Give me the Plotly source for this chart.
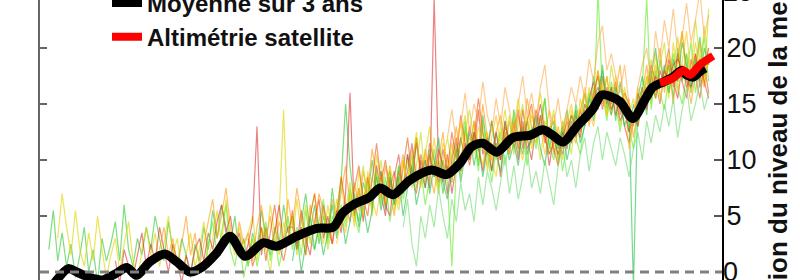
import plotly.graph_objects as go

# ---------------- data (cm, annual means) ----------------
X_MIN, X_MAX = 1853, 2007
Y_MIN, Y_MAX = -0.714, 24.286
TICK_VALUES = [0, 5, 10, 15, 20]

gauge_a_start = 1855
gauge_a = [2.0, 5.5, 1.0, 3.5, 0.5, 2.5, -0.5, 1.5, 4.0, 0.0,
           2.0, -1.0, 3.0, 1.0, 2.5, 4.5, 1.0, 6.0, 2.0, 0.5,
           3.0, 1.5, 4.0, 2.0, 5.0, 3.0, 1.0, 4.5, 2.0, 0.5,
           3.0, 1.5, -0.5, 2.5, 1.0, 4.0, 2.0, 5.5, 3.0, 6.0,
           4.0, 2.5, 5.0, 1.5, 3.0, 0.5, 3.5, 2.0, 5.5, 3.0,
           1.5, 4.0, 2.5, 6.0, 3.5, 5.0, 2.0, 4.5, 7.0, 3.5,
           6.0, 2.5, 5.0, 3.0, 7.5, 4.0, 8.0, 15.0, 9.5, 6.0,
           4.5, 8.0, 6.5, 10.0, 7.0, 9.0, 5.5, 8.5, 6.0, 9.5,
           7.0, 10.5, 8.0, 12.0, 9.0, 7.5, 11.0, 8.5, 10.0, 7.0,
           9.5, 8.0, 11.5, 9.0, 13.0, 10.5, 12.5, 9.5, 14.0, 11.0,
           9.0, 12.5, 10.0, 13.5, 11.0, 14.5, 12.0, 10.5, 13.5, 11.5,
           14.0, 12.5, 15.5, 11.0, 13.0, 10.0, 12.5, 14.5, 11.5, 15.0,
           13.0, 16.0, 14.0, 17.5, 15.0, 18.5, 14.5, 16.5, 13.5, 17.0,
           14.5, 12.5, 15.0, 13.0, 16.5, 14.0, 18.0, 15.5, 19.0, 16.5,
           18.5, 15.5, 20.0, 17.0, 19.5, 16.0, 18.5, 21.0, 17.5, 19.0]

gauge_b_start = 1857
gauge_b = [3.0, 7.0, 4.0, 1.5, 5.5, 2.0, 0.5, 3.5, 1.0, 5.0,
           2.0, -0.5, 1.5, 3.0, 0.0, 2.5, 4.5, 1.0, -1.0, 2.0,
           4.0, 1.5, 3.5, 0.5, 2.5, 5.0, 1.5, 3.0, 0.0, 1.5,
           3.5, 0.5, 2.0, 4.5, 1.0, 3.0, 5.5, 2.5, 6.5, 3.0,
           1.5, 4.0, 2.0, 3.5, 5.0, 1.5, 4.0, 2.0, 6.0, 3.5,
           5.0, 14.5, 4.0, 2.5, 6.5, 3.5, 1.5, 5.0, 7.0, 4.0,
           2.5, 6.0, 3.5, 5.5, 8.5, 4.5, 7.0, 5.0, 9.0, 6.5,
           8.5, 5.0, 10.5, 8.0, 6.0, 9.5, 5.5, 8.0, 10.0, 7.5,
           9.5, 12.5, 8.0, 10.5, 13.0, 9.0, 7.5, 10.0, 8.5, 11.5,
           9.0, 12.0, 14.0, 10.5, 13.5, 11.0, 9.5, 12.5, 10.0, 8.5,
           12.0, 14.5, 11.5, 13.0, 15.5, 12.0, 14.0, 11.0, 13.5, 16.0,
           13.0, 10.5, 12.5, 9.5, 13.5, 11.5, 14.5, 12.0, 15.5, 13.5,
           16.5, 14.0, 18.0, 15.5, 17.5, 14.0, 16.0, 13.0, 15.5, 12.5,
           13.5, 16.0, 14.5, 17.5, 15.0, 19.5, 16.5, 18.0, 15.5, 20.5,
           17.0, 21.5, 18.0, 16.0, 19.5, 17.0, 22.0, 18.5]

gauge_c_start = 1870
gauge_c = [1.0, -1.0, 2.0, 0.5, -0.5, 1.5, 3.5, 0.5, 2.5, 1.0,
           4.0, 2.0, 0.0, 2.5, 1.0, -1.0, 1.5, 0.0, 2.0, 3.0,
           1.0, 3.5, 2.0, 4.5, 6.0, 3.5, 5.0, 2.0, 3.5, 1.0,
           2.5, 4.5, 13.0, 1.5, 4.0, 2.0, 3.5, 6.0, 2.5, 4.0,
           4.0, 2.5, 5.5, 3.0, 1.5, 4.5, 6.5, 3.0, 5.0, 2.5,
           5.5, 3.5, 7.0, 16.0, 5.0, 7.5, 4.5, 8.5, 6.0, 9.5,
           7.0, 5.0, 8.5, 6.5, 9.0, 7.5, 10.5, 8.0, 11.5, 9.0,
           10.0, 7.5, 24.5, 9.5, 8.0, 10.5, 7.0, 9.5, 12.0, 10.0,
           13.0, 11.0, 14.5, 10.5, 12.0, 9.0, 11.5, 8.5, 12.5, 10.5,
           13.5, 11.0, 14.5, 12.0, 10.0, 13.0, 15.0, 12.5, 9.5, 12.0,
           10.5, 12.5, 11.0, 13.5, 12.0, 14.5, 13.0, 15.5, 17.0, 14.5,
           17.5, 15.0, 16.5, 14.0, 15.5, 13.0, 11.5, 13.5, 15.0, 16.5,
           14.5, 17.5, 15.5, 18.0, 16.5, 19.0, 17.0, 15.5, 18.5, 16.5,
           17.5, 19.5, 16.5, 18.0, 20.0]

gauge_d_start = 1880
gauge_d = [2.0, 4.0, 1.5, 3.0, 0.5, 2.5, 5.0, 1.5, 3.5, 0.5,
           2.5, 4.5, 6.5, 3.0, 5.0, 7.5, 4.0, 2.0, 4.5, 2.5,
           3.5, 1.0, 4.0, 6.0, 3.0, 5.0, 2.0, 4.5, 3.0, 6.5,
           4.0, 7.5, 5.0, 2.5, 6.0, 4.0, 7.0, 5.5, 3.5, 6.5,
           4.5, 7.0, 9.5, 6.0, 8.0, 5.5, 9.0, 7.0, 11.0, 8.5,
           6.5, 9.5, 7.0, 5.0, 8.5, 10.5, 7.5, 9.5, 12.0, 8.5,
           11.0, 9.0, 7.0, 10.0, 12.5, 8.5, 10.5, 13.0, 10.0, 12.5,
           10.0, 13.5, 11.0, 15.0, 12.0, 10.0, 12.5, 14.0, 11.0, 13.5,
           11.0, 14.0, 12.0, 15.5, 13.0, 11.5, 14.0, 12.0, 14.5, 10.5,
           13.0, 11.0, 14.0, 12.5, 11.5, 14.5, 16.0, 13.0, 15.5, 18.0,
           15.0, 17.5, 14.5, 16.0, 18.5, 14.0, 15.5, 12.0, 14.5, 16.0,
           18.5, 15.5, 17.5, 20.0, 16.0, 18.5, 15.0, 19.0, 21.5, 17.5,
           15.0, 18.0, 20.5, 16.5, 19.0]

gauge_e_start = 1890
gauge_e = [0.0, 2.5, 4.5, 1.5, 3.5, 6.0, 2.0, 0.5, 3.0, -0.5,
           1.5, 3.0, 0.5, 2.5, 4.5, 1.0, 3.0, 0.5, 2.5, 5.0,
           2.0, 4.0, 1.5, 5.5, 3.0, 2.0, 4.5, 6.5, 2.5, 5.0,
           3.5, 6.0, 4.0, 7.5, 5.0, 3.5, 6.5, 8.0, 5.5, 9.0,
           6.0, 8.5, 4.5, 7.0, 9.5, 6.5, 8.0, 10.5, 7.5, 9.0,
           6.0, 8.5, 11.0, 7.5, 10.0, 8.0, 0.5, 9.5, 11.5, 13.5,
           10.0, 12.0, 9.0, 13.5, 10.5, 8.0, 11.0, 12.5, 9.5, 11.5,
           14.0, 10.5, 12.5, 9.5, 13.0, 11.0, 13.5, 15.5, 11.5, 10.0,
           12.5, 9.0, 11.5, 14.0, 12.0, 10.5, 13.5, 16.0, 14.0, 25.0,
           16.0, 13.5, 17.0, 15.0, 12.5, 15.5, 13.0, 11.0, 14.5, 16.5,
           24.5, 14.5, 18.0, 16.0, 14.5, 17.5, 19.5, 16.5, 15.0, 18.0,
           20.5, 16.0, 18.5, 21.0, 17.0]

gauge_f_start = 1900
gauge_f = [0.5, 3.0, 1.0, 4.0, 2.0, 0.0, 3.5, 1.5, 4.5, 2.5,
           5.0, 1.5, 3.5, 6.0, 2.5, 4.5, 3.0, 5.5, 2.0, 4.0,
           6.5, 4.0, 5.5, 8.0, 4.5, 7.0, 9.5, 6.0, 8.5, 7.0,
           10.0, 6.5, 8.5, 7.0, 5.5, 8.0, 10.0, 7.5, 9.5, 12.5,
           8.0, 10.5, 9.0, 7.0, 10.0, 12.0, 9.5, 11.0, 8.5, 12.5,
           14.5, 11.5, 10.0, 12.5, 9.0, 11.5, 10.0, 13.0, 11.5, 14.0,
           10.5, 13.0, 15.0, 11.5, 14.0, 12.5, 10.0, 13.5, 12.0, 14.5,
           11.0, 13.5, 12.5, 10.5, 14.5, 12.0, 15.0, 13.5, 16.5, 15.0,
           17.0, 14.0, 18.5, 16.0, 14.5, 16.5, 14.0, 15.5, 13.0, 15.0,
           17.0, 19.0, 15.5, 18.5, 20.5, 16.0, 18.0, 21.0, 17.5, 19.5,
           18.0, 22.5, 19.0, 17.0, 23.5]

gauge_g_start = 1900
gauge_g = [3.0, 0.5, 2.0, 4.0, 1.0, 3.5, 6.0, 2.5, 1.0, 3.0,
           5.5, 2.0, 4.0, 1.5, 5.0, 7.0, 3.5, 6.0, 4.0, 2.5,
           5.0, 8.5, 6.0, 4.5, 7.5, 9.5, 6.5, 5.0, 8.0, 11.5,
           8.0, 10.0, 7.5, 9.0, 6.5, 9.5, 12.0, 8.5, 7.0, 10.5,
           8.5, 11.5, 10.0, 8.0, 11.0, 9.0, 12.5, 10.0, 14.0, 11.5,
           9.5, 12.0, 15.5, 12.5, 10.5, 13.5, 11.0, 10.0, 13.0, 11.5,
           12.5, 14.5, 11.0, 13.5, 15.0, 12.0, 14.0, 11.5, 13.0, 11.0,
           9.5, 12.0, 13.5, 11.5, 14.0, 12.5, 15.0, 14.0, 16.0, 17.5,
           14.5, 16.5, 15.0, 17.0, 14.0, 16.0, 15.0, 13.0, 16.0, 14.5,
           16.0, 18.5, 17.0, 15.0, 18.0, 20.0, 16.5, 19.5, 17.0, 15.5,
           19.0, 17.5, 15.5, 18.5, 16.0]

gauge_h_start = 1910
gauge_h = [1.0, 3.5, 0.0, 2.5, 5.0, 2.0, 4.0, 1.5, 3.5, 6.0,
           3.0, 5.5, 2.5, 4.5, 7.0, 4.0, 6.0, 3.5, 5.5, 8.5,
           5.5, 7.5, 9.0, 6.0, 8.5, 5.0, 7.5, 9.5, 6.0, 8.0,
           10.0, 7.0, 9.5, 12.0, 8.0, 6.5, 9.0, 11.0, 8.0, 10.5,
           12.5, 9.5, 11.5, 8.5, 11.0, 13.5, 10.5, 9.0, 12.0, 10.0,
           11.5, 9.5, 13.0, 10.5, 12.0, 14.0, 11.0, 9.5, 12.5, 13.5,
           11.0, 13.0, 10.0, 12.0, 14.5, 11.5, 13.0, 15.5, 13.5, 16.0,
           18.0, 15.5, 14.0, 16.5, 15.0, 13.0, 14.5, -1.5, 15.5, 17.5,
           15.5, 17.5, 20.0, 16.5, 18.5, 16.0, 19.0, 17.0, 20.5, 18.5,
           16.5, 19.0, 17.0, 20.0, 18.5]

gauge_i_start = 1920
gauge_i = [2.5, 5.0, 3.5, 6.5, 4.0, 7.5, 5.0, 9.0, 6.5, 5.0,
           8.0, 6.0, 9.5, 7.5, 6.0, 10.0, 8.0, 11.0, 9.0, 7.5,
           10.5, 8.5, 12.0, 9.0, 11.5, 10.0, 8.0, 11.5, 13.5, 10.5,
           12.0, 10.5, 13.0, 11.5, 9.5, 12.0, 14.0, 11.0, 12.5, 10.5,
           13.5, 11.5, 10.0, 12.5, 14.5, 12.0, 13.0, 10.5, 12.5, 14.0,
           12.0, 10.0, 13.5, 15.0, 12.5, 14.0, 16.5, 14.5, 13.0, 15.5,
           16.5, 14.0, 15.5, 17.5, 14.5, 16.0, 11.0, 14.0, 16.5, 15.0,
           17.5, 16.0, 18.5, 15.5, 17.0, 19.5, 18.0, 16.0, 19.0, 21.5,
           17.5, 20.5, 18.0, 16.5, 19.5]

gauge_j_start = 1930
gauge_j = [9.0, 6.0, 5.0, 8.5, 10.5, 7.0, 9.0, 11.5, 8.0, 10.0,
           7.5, 10.5, 8.5, 11.0, 9.5, 7.0, 10.0, 12.0, 9.0, 11.5,
           10.0, 12.5, 11.0, 9.0, 11.5, 10.5, 12.5, 10.0, 13.5, 11.5,
           12.5, 10.0, 13.5, 11.0, 12.0, 14.5, 13.0, 12.0, 10.5, 11.5,
           12.0, 10.5, 12.5, 14.0, 13.0, 12.0, 14.5, 13.5, 15.5, 16.5,
           15.5, 16.0, 14.5, 15.5, 13.5, 14.5, 12.5, 14.0, 13.0, 15.5,
           16.5, 15.5, 17.5, 16.5, 18.0, 17.0, 18.5, 19.0, 18.0, 17.0,
           16.5, 18.0, 19.0, 17.0, 15.5]

gauge_k_start = 1935
gauge_k = [4.0, 6.5, 2.5, 0.5, 5.0, 3.0, 6.0, 4.0, 7.5, 5.0,
           3.0, 6.5, 4.5, 8.0, 5.5, 7.0, 4.5, 8.5, 6.0, 9.0,
           7.5, 5.5, 8.0, 10.5, 7.0, 9.5, 6.5, 8.5, 11.0, 7.5,
           9.0, 7.0, 10.0, 8.0, 6.0, 9.5, 11.5, 8.5, 10.0, 7.5,
           10.5, 12.0, 9.0, 11.5, 13.0, 10.0, 12.5, 11.0, 9.5, 12.0,
           10.5, 8.5, 11.0, 12.5, 10.0, 13.5, 11.5, 14.0, 12.5, 15.0,
           13.0, 15.5, 12.0, 14.5, 16.5, 13.5, 15.0, 17.0, 14.5, 16.0]

gauge_l_start = 1945
gauge_l = [12.0, 14.5, 11.5, 13.0, 16.0, 12.5, 15.0, 13.5, 17.0, 14.0,
           12.5, 15.5, 13.0, 16.5, 14.5, 12.0, 15.0, 17.5, 14.0, 16.0,
           13.5, 16.5, 18.5, 14.5, 13.0, 15.5, 12.5, 14.5, 16.5, 15.0,
           17.5, 15.5, 19.0, 17.0, 20.5, 22.0, 18.0, 19.5, 17.5, 16.0,
           18.5, 15.0, 13.5, 16.5, 18.5, 20.0, 17.0, 21.5, 19.0, 22.5,
           20.0, 23.5, 19.5, 21.0, 24.0, 20.5, 22.5, 25.0, 21.0, 23.0]

mean_years = [1855.3, 1856.8, 1859.4, 1861.3, 1864.3, 1867.2, 1870.3, 1872.6, 1874.8, 1877.8,
              1881.2, 1883.9, 1886.9, 1889.8, 1892.9, 1895.9, 1899.3, 1903.4, 1906.4, 1911.0,
              1915.5, 1919.2, 1921.4, 1923.7, 1927.5, 1929.8, 1932.7, 1936.5, 1941.4, 1944.8,
              1947.8, 1950.5, 1953.0, 1956.1, 1959.8, 1963.6, 1966.6, 1968.8, 1971.1, 1974.2,
              1976.4, 1977.9, 1979.8, 1981.7, 1984.0, 1986.9, 1989.6, 1991.4, 1993.4, 1995.9,
              1997.9, 1999.0, 2000.5, 2002.0, 2003.2]
mean_cm = [-1.6, -0.7, 0.3, 0.0, -0.5, -0.7, -0.1, 0.4, -0.3, 0.9,
           1.6, 0.9, 0.0, 0.5, 1.7, 3.2, 1.4, 2.6, 2.3, 3.2,
           3.9, 4.0, 5.3, 6.0, 6.7, 7.5, 6.9, 8.2, 9.1, 8.7,
           9.7, 11.2, 11.5, 10.7, 12.0, 12.2, 12.7, 12.2, 11.6, 13.0,
           13.9, 14.6, 15.8, 15.7, 15.2, 13.7, 15.4, 16.5, 16.9, 17.4,
           18.0, 17.6, 17.4, 17.9, 18.2]

sat_years = [1993.0, 1995.9, 1998.2, 1999.8, 2002.0, 2005.0]
sat_cm = [16.9, 17.3, 18.0, 17.6, 18.5, 19.3]

gauges = [
    (gauge_a_start, gauge_a, "rgba(40,200,40,0.6)"),
    (gauge_b_start, gauge_b, "rgba(225,215,0,0.65)"),
    (gauge_c_start, gauge_c, "rgba(220,30,30,0.55)"),
    (gauge_d_start, gauge_d, "rgba(255,150,0,0.6)"),
    (gauge_e_start, gauge_e, "rgba(90,235,30,0.6)"),
    (gauge_f_start, gauge_f, "rgba(190,220,0,0.6)"),
    (gauge_g_start, gauge_g, "rgba(235,70,0,0.55)"),
    (gauge_h_start, gauge_h, "rgba(30,190,70,0.6)"),
    (gauge_i_start, gauge_i, "rgba(255,190,0,0.6)"),
    (gauge_j_start, gauge_j, "rgba(210,60,60,0.55)"),
    (gauge_k_start, gauge_k, "rgba(110,220,110,0.6)"),
    (gauge_l_start, gauge_l, "rgba(255,170,70,0.6)"),
]

FONT = "Liberation Sans, Arial, sans-serif"
LABEL_SHIFT = -3

fig = go.Figure()
for start, vals, col in gauges:
    fig.add_trace(go.Scatter(
        x=list(range(start, start + len(vals))), y=vals, mode="lines",
        line=dict(color=col, width=1.2), showlegend=False, hoverinfo="skip"))

fig.add_trace(go.Scatter(
    x=mean_years, y=mean_cm, mode="lines", name="Moyenne sur 3 ans",
    line=dict(color="black", width=9, shape="spline", smoothing=0.8), yaxis="y2"))
fig.add_trace(go.Scatter(
    x=sat_years, y=sat_cm, mode="lines", name="Altimétrie satellite",
    line=dict(color="#ff0000", width=8, shape="spline", smoothing=0.8), yaxis="y2"))

fig.add_shape(type="line", xref="paper", x0=0, x1=1, yref="y", y0=0, y1=0,
              line=dict(color="#808080", width=3, dash="9px,6px"), layer="above")

edge_labels = [(25, "25"), (0, "0")]

fig.update_layout(
    width=800, height=280,
    margin=dict(l=40, r=78, t=0, b=0, autoexpand=False),
    paper_bgcolor="white", plot_bgcolor="white",
    font=dict(family=FONT, color="#111"),
    xaxis=dict(range=[X_MIN, X_MAX], visible=False),
    yaxis=dict(range=[Y_MIN, Y_MAX], side="left", showline=True, linecolor="#666",
               linewidth=2, ticks="inside", ticklen=7, tickwidth=2, tickcolor="#666",
               tickvals=TICK_VALUES, showticklabels=False, showgrid=False, zeroline=False),
    yaxis2=dict(range=[Y_MIN, Y_MAX], overlaying="y", side="right", showline=True,
                linecolor="black", linewidth=2, ticks="inside", ticklen=8, tickwidth=2,
                tickcolor="#555", tickvals=TICK_VALUES[1:],
                tickfont=dict(family=FONT, size=27, color="#111"),
                ticklabelstandoff=LABEL_SHIFT, showgrid=False, zeroline=False),
    legend=dict(x=(107 - 40) / 682, y=1.07, xanchor="left", yanchor="top",
                bgcolor="rgba(0,0,0,0)", itemwidth=30,
                font=dict(family=FONT, size=24, color="#111", weight="bold")),
    annotations=[
        dict(text="Variation du niveau de la mer (cm)", textangle=-90,
             xref="paper", yref="paper", x=(778 - 40) / 682, y=0.5,
             xanchor="center", yanchor="middle", showarrow=False,
             font=dict(family=FONT, size=26, color="#111", weight="bold")),
    ] + [
        dict(text=txt, xref="paper", yref="paper", x=1, xshift=2 + LABEL_SHIFT,
             y=(val - Y_MIN) / (Y_MAX - Y_MIN), xanchor="left", yanchor="middle",
             showarrow=False, font=dict(family=FONT, size=27, color="#111"))
        for val, txt in edge_labels
    ],
)

fig.write_html("out.html")
